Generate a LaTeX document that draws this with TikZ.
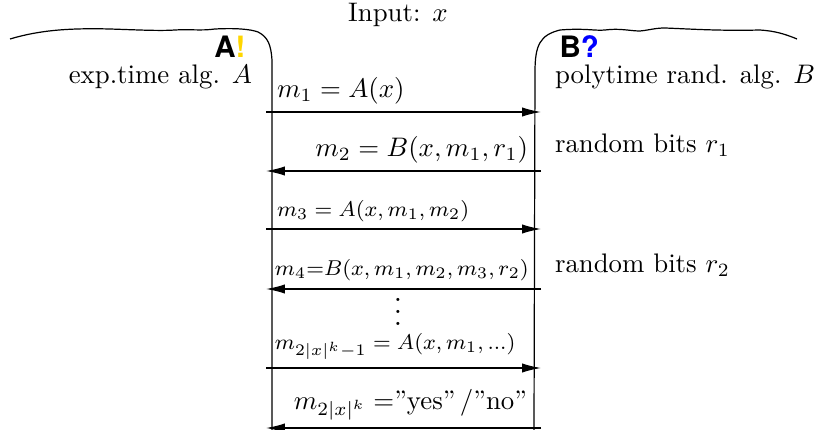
\documentclass[tikz,border=0pt]{standalone}
\usepackage{fontspec}
\newfontfamily\heros{TeX Gyre Heros}
\usetikzlibrary{arrows.meta}
\definecolor{excl}{RGB}{255,214,0}
\begin{document}
\begin{tikzpicture}[x=0.373pt,y=-0.373pt,
  msg/.style={line width=0.45pt,-{Latex[length=7pt,width=3.4pt]}},
  life/.style={line width=0.45pt},
  txt/.style={inner sep=0pt,outer sep=0pt},
  smallmsg/.style={txt,font=\fontsize{8.5}{10}\selectfont},
  badge/.style={inner sep=0pt,font=\heros\bfseries\fontsize{11}{12}\selectfont}]
\useasboundingbox (0,0) rectangle (819,430);
% lifelines with wavy tops
\draw[life] (10,39) .. controls (40,30) and (70,28) .. (110,29)
  .. controls (140,30) and (160,31) .. (175,30)
  .. controls (190,29) and (200,31) .. (215,29)
  .. controls (235,28) and (250,29) .. (258,32)
  .. controls (268,37) and (271,45) .. (272,60) -- (272,430);
\draw[life] (534,430) -- (535,72)
  .. controls (535,45) and (540,35) .. (560,30)
  .. controls (585,28) and (595,31) .. (605,30)
  .. controls (620,28) and (630,31) .. (640,31)
  .. controls (650,30) and (655,28) .. (665,28)
  .. controls (690,29) and (720,31) .. (760,30)
  .. controls (775,31) and (785,34) .. (797,39);
% coordinates for messages
\foreach \n/\y in {1/112,2/171,3/229,4/289,5/368,6/428}{
  \coordinate (L\n) at (266,\y);
  \coordinate (R\n) at (541,\y);
}
\draw[msg] (L1) -- (R1);
\draw[msg] (R2) -- (L2);
\draw[msg] (L3) -- (R3);
\draw[msg] (R4) -- (L4);
\draw[msg] (L5) -- (R5);
\draw[msg] (R6) -- (L6);
% labels
\node[txt] (input) at (398,15) {Input: $x$};
\node[badge,anchor=south east] (abadge) at (246,58) {A\textcolor{excl}{!}};
\node[badge,anchor=south west] (bbadge) at (559,58) {B\textcolor{blue}{?}};
\node[txt,anchor=east] (algA) at (252,77) {exp.time alg. $A$};
\node[txt,anchor=west] (algB) at (555,77) {polytime rand. alg. $B$};
\node[txt,anchor=west] (rb1) at (555,145) {random bits $r_1$};
\node[txt,anchor=west] (rb2) at (555,265) {random bits $r_2$};
\node[txt,anchor=south west] (m1) at (277,104) {$m_1=A(x)$};
\node[txt,anchor=south east] (m2) at (528,163) {$m_2=B(x,m_1,r_1)$};
\node[smallmsg,anchor=south west] (m3) at (277,222) {$m_3=A(x,m_1,m_2)$};
\node[smallmsg,anchor=south west] (m4) at (275,281) {$m_4{=}B(x,m_1,m_2,m_3,r_2)$};
\node[txt,font=\large] (dots) at (398,312) {\vbox{\baselineskip4.4pt\lineskiplimit0pt\hbox{.}\hbox{.}\hbox{.}}};
\node[smallmsg,anchor=south west] (m5) at (275,360) {$m_{2|x|^k-1}=A(x,m_1,...)$};
\node[txt,anchor=south east] (m6) at (527,420) {$m_{2|x|^k}=$''yes''\,/''no''};
\end{tikzpicture}
\end{document}
